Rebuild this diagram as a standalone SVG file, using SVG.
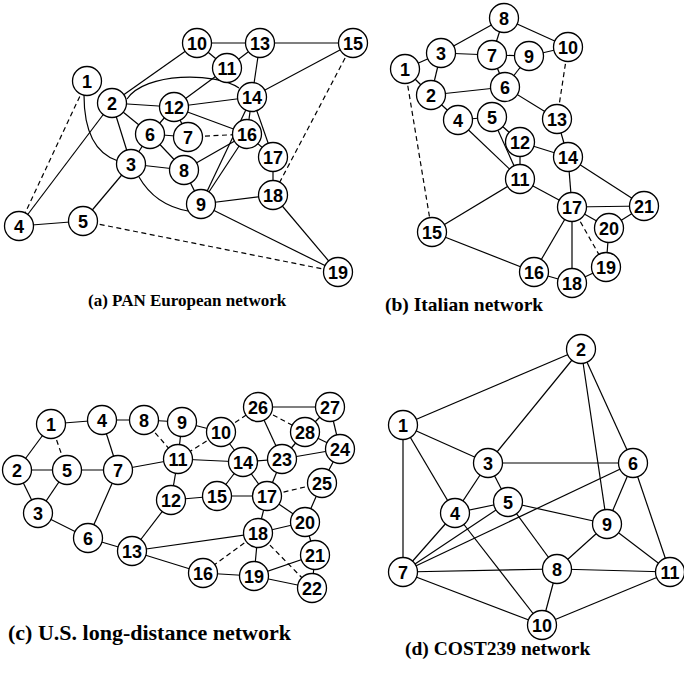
<svg xmlns="http://www.w3.org/2000/svg" width="684" height="682" viewBox="0 0 684 682">
<style>
.e{stroke:#000;stroke-width:1.2;fill:none}
.d{stroke:#000;stroke-width:1.2;fill:none;stroke-dasharray:5 3.5}
.n text{font-family:"Liberation Sans",Arial,sans-serif;font-weight:bold;font-size:18px;text-anchor:middle;fill:#000}
.cap{font-family:"Liberation Serif","Times New Roman",serif;font-weight:bold;fill:#000}
</style>
<rect width="684" height="682" fill="#fff"/>
<defs>
<circle id="c" r="14.5" fill="#fff" stroke="#000" stroke-width="1.3"/>
</defs>

<!-- Panel A connectors -->
<g id="edges-a">
<line class="d" x1="87" y1="81" x2="19" y2="226"/>
<line class="e" x1="112" y1="103" x2="19" y2="226"/>
<line class="e" x1="112" y1="103" x2="197" y2="43"/>
<line class="e" x1="112" y1="103" x2="174" y2="107"/>
<line class="e" x1="112" y1="103" x2="150" y2="134"/>
<line class="e" x1="112" y1="103" x2="131" y2="164"/>
<line class="e" x1="131" y1="164" x2="150" y2="134"/>
<line class="e" x1="131" y1="164" x2="184" y2="170"/>
<line class="e" x1="131" y1="164" x2="83" y2="221"/>
<line class="e" x1="19" y1="226" x2="83" y2="221"/>
<line class="d" x1="83" y1="221" x2="338" y2="272"/>
<line class="e" x1="150" y1="134" x2="188" y2="137"/>
<line class="e" x1="150" y1="134" x2="184" y2="170"/>
<line class="e" x1="150" y1="134" x2="174" y2="107"/>
<line class="e" x1="188" y1="137" x2="174" y2="107"/>
<line class="d" x1="188" y1="137" x2="247" y2="134"/>
<line class="e" x1="184" y1="170" x2="247" y2="134"/>
<line class="e" x1="184" y1="170" x2="201" y2="204"/>
<line class="e" x1="201" y1="204" x2="252" y2="97"/>
<line class="e" x1="201" y1="204" x2="247" y2="134"/>
<line class="e" x1="201" y1="204" x2="273" y2="195"/>
<line class="e" x1="201" y1="204" x2="338" y2="272"/>
<line class="e" x1="197" y1="43" x2="260" y2="43"/>
<line class="e" x1="197" y1="43" x2="227" y2="68"/>
<line class="e" x1="227" y1="68" x2="260" y2="43"/>
<line class="e" x1="227" y1="68" x2="174" y2="107"/>
<line class="e" x1="174" y1="107" x2="252" y2="97"/>
<line class="e" x1="174" y1="107" x2="247" y2="134"/>
<line class="e" x1="260" y1="43" x2="252" y2="97"/>
<line class="e" x1="260" y1="43" x2="353" y2="43"/>
<line class="e" x1="252" y1="97" x2="353" y2="43"/>
<line class="e" x1="252" y1="97" x2="247" y2="134"/>
<line class="e" x1="252" y1="97" x2="273" y2="157"/>
<line class="e" x1="247" y1="134" x2="273" y2="157"/>
<line class="e" x1="273" y1="157" x2="273" y2="195"/>
<line class="d" x1="353" y1="43" x2="273" y2="195"/>
<line class="e" x1="273" y1="195" x2="338" y2="272"/>
<path class="e" d="M84 95 Q84 150 118 161"/>
<path class="e" d="M127 99 C145 72 215 72 239 88"/>
<path class="e" d="M139 177 Q155 205 188 211"/>
</g>

<!-- Panel B connectors -->
<g id="edges-b">
<line class="e" x1="405" y1="69" x2="441" y2="53"/>
<line class="e" x1="405" y1="69" x2="431" y2="95"/>
<line class="d" x1="405" y1="69" x2="432" y2="232"/>
<line class="e" x1="431" y1="95" x2="441" y2="53"/>
<line class="e" x1="441" y1="53" x2="504" y2="18"/>
<line class="e" x1="441" y1="53" x2="492" y2="55"/>
<line class="e" x1="504" y1="18" x2="492" y2="55"/>
<line class="e" x1="504" y1="18" x2="568" y2="47"/>
<line class="e" x1="492" y1="55" x2="529" y2="56"/>
<line class="e" x1="492" y1="55" x2="505" y2="87"/>
<line class="e" x1="529" y1="56" x2="505" y2="87"/>
<line class="e" x1="529" y1="56" x2="568" y2="47"/>
<line class="e" x1="431" y1="95" x2="505" y2="87"/>
<line class="e" x1="431" y1="95" x2="458" y2="120"/>
<line class="e" x1="458" y1="120" x2="492" y2="117"/>
<line class="e" x1="458" y1="120" x2="520" y2="179"/>
<line class="e" x1="492" y1="117" x2="520" y2="179"/>
<line class="e" x1="492" y1="117" x2="520" y2="142"/>
<line class="e" x1="520" y1="142" x2="520" y2="179"/>
<line class="e" x1="520" y1="142" x2="568" y2="157"/>
<line class="e" x1="505" y1="87" x2="557" y2="119"/>
<line class="d" x1="568" y1="47" x2="557" y2="119"/>
<line class="e" x1="557" y1="119" x2="568" y2="157"/>
<line class="e" x1="568" y1="157" x2="572" y2="207"/>
<line class="e" x1="568" y1="157" x2="644" y2="206"/>
<line class="e" x1="520" y1="179" x2="572" y2="207"/>
<line class="e" x1="520" y1="179" x2="432" y2="232"/>
<line class="e" x1="432" y1="232" x2="534" y2="272"/>
<line class="e" x1="572" y1="207" x2="644" y2="206"/>
<line class="e" x1="572" y1="207" x2="609" y2="228"/>
<line class="d" x1="572" y1="207" x2="606" y2="267"/>
<line class="e" x1="572" y1="207" x2="534" y2="272"/>
<line class="e" x1="572" y1="207" x2="572" y2="283"/>
<line class="e" x1="609" y1="228" x2="644" y2="206"/>
<line class="e" x1="609" y1="228" x2="606" y2="267"/>
<line class="e" x1="534" y1="272" x2="572" y2="283"/>
<line class="e" x1="572" y1="283" x2="606" y2="267"/>
</g>

<!-- Panel C connectors -->
<g id="edges-c">
<line class="e" x1="51" y1="424" x2="102" y2="420"/>
<line class="e" x1="51" y1="424" x2="17" y2="470"/>
<line class="d" x1="51" y1="424" x2="67" y2="470"/>
<line class="e" x1="17" y1="470" x2="67" y2="470"/>
<line class="e" x1="17" y1="470" x2="38" y2="513"/>
<line class="e" x1="38" y1="513" x2="67" y2="470"/>
<line class="e" x1="38" y1="513" x2="88" y2="538"/>
<line class="e" x1="102" y1="420" x2="144" y2="420"/>
<line class="e" x1="102" y1="420" x2="118" y2="470"/>
<line class="e" x1="67" y1="470" x2="118" y2="470"/>
<line class="e" x1="118" y1="470" x2="178" y2="459"/>
<line class="e" x1="118" y1="470" x2="88" y2="538"/>
<line class="e" x1="144" y1="420" x2="182" y2="422"/>
<line class="d" x1="144" y1="420" x2="178" y2="459"/>
<line class="e" x1="182" y1="422" x2="221" y2="432"/>
<line class="e" x1="182" y1="422" x2="178" y2="459"/>
<line class="d" x1="221" y1="432" x2="178" y2="459"/>
<line class="e" x1="221" y1="432" x2="243" y2="462"/>
<line class="d" x1="221" y1="432" x2="258" y2="407"/>
<line class="e" x1="178" y1="459" x2="243" y2="462"/>
<line class="e" x1="178" y1="459" x2="171" y2="500"/>
<line class="e" x1="171" y1="500" x2="217" y2="496"/>
<line class="e" x1="171" y1="500" x2="132" y2="551"/>
<line class="e" x1="88" y1="538" x2="132" y2="551"/>
<line class="e" x1="132" y1="551" x2="258" y2="533"/>
<line class="e" x1="132" y1="551" x2="203" y2="573"/>
<line class="e" x1="243" y1="462" x2="282" y2="459"/>
<line class="e" x1="243" y1="462" x2="217" y2="496"/>
<line class="e" x1="243" y1="462" x2="267" y2="496"/>
<line class="e" x1="217" y1="496" x2="267" y2="496"/>
<line class="e" x1="258" y1="407" x2="330" y2="407"/>
<line class="d" x1="258" y1="407" x2="305" y2="432"/>
<line class="e" x1="258" y1="407" x2="282" y2="459"/>
<line class="e" x1="330" y1="407" x2="305" y2="432"/>
<line class="e" x1="330" y1="407" x2="340" y2="449"/>
<line class="e" x1="305" y1="432" x2="340" y2="449"/>
<line class="e" x1="305" y1="432" x2="282" y2="459"/>
<line class="e" x1="282" y1="459" x2="340" y2="449"/>
<line class="e" x1="282" y1="459" x2="267" y2="496"/>
<line class="d" x1="267" y1="496" x2="322" y2="483"/>
<line class="e" x1="267" y1="496" x2="305" y2="522"/>
<line class="e" x1="267" y1="496" x2="258" y2="533"/>
<line class="e" x1="322" y1="483" x2="340" y2="449"/>
<line class="e" x1="322" y1="483" x2="305" y2="522"/>
<line class="e" x1="305" y1="522" x2="258" y2="533"/>
<line class="e" x1="305" y1="522" x2="315" y2="555"/>
<line class="d" x1="258" y1="533" x2="203" y2="573"/>
<line class="e" x1="258" y1="533" x2="254" y2="576"/>
<line class="d" x1="258" y1="533" x2="312" y2="588"/>
<line class="e" x1="203" y1="573" x2="254" y2="576"/>
<line class="e" x1="254" y1="576" x2="315" y2="555"/>
<line class="e" x1="254" y1="576" x2="312" y2="588"/>
<line class="e" x1="315" y1="555" x2="312" y2="588"/>
</g>

<!-- Panel D connectors -->
<g id="edges-d">
<line class="e" x1="403" y1="425" x2="581" y2="349"/>
<line class="e" x1="403" y1="425" x2="488" y2="463"/>
<line class="e" x1="403" y1="425" x2="455" y2="513"/>
<line class="e" x1="403" y1="425" x2="403" y2="572"/>
<line class="e" x1="581" y1="349" x2="488" y2="463"/>
<line class="e" x1="581" y1="349" x2="607" y2="524"/>
<line class="e" x1="581" y1="349" x2="633" y2="463"/>
<line class="e" x1="488" y1="463" x2="633" y2="463"/>
<line class="e" x1="488" y1="463" x2="455" y2="513"/>
<line class="e" x1="488" y1="463" x2="508" y2="502"/>
<line class="e" x1="455" y1="513" x2="508" y2="502"/>
<line class="e" x1="455" y1="513" x2="403" y2="572"/>
<line class="e" x1="455" y1="513" x2="542" y2="625"/>
<line class="e" x1="508" y1="502" x2="607" y2="524"/>
<line class="e" x1="508" y1="502" x2="557" y2="569"/>
<line class="e" x1="508" y1="502" x2="403" y2="572"/>
<line class="e" x1="633" y1="463" x2="403" y2="572"/>
<line class="e" x1="633" y1="463" x2="607" y2="524"/>
<line class="e" x1="633" y1="463" x2="670" y2="572"/>
<line class="e" x1="403" y1="572" x2="557" y2="569"/>
<line class="e" x1="403" y1="572" x2="542" y2="625"/>
<line class="e" x1="557" y1="569" x2="607" y2="524"/>
<line class="e" x1="557" y1="569" x2="670" y2="572"/>
<line class="e" x1="557" y1="569" x2="542" y2="625"/>
<line class="e" x1="607" y1="524" x2="670" y2="572"/>
<line class="e" x1="542" y1="625" x2="670" y2="572"/>
</g>

<!-- Panel A nodes -->
<g id="a1" class="n"><use href="#c" x="87" y="81"/><text x="87" y="87.5">1</text></g>
<g id="a2" class="n"><use href="#c" x="112" y="103"/><text x="112" y="109.5">2</text></g>
<g id="a3" class="n"><use href="#c" x="131" y="164"/><text x="131" y="170.5">3</text></g>
<g id="a4" class="n"><use href="#c" x="19" y="226"/><text x="19" y="232.5">4</text></g>
<g id="a5" class="n"><use href="#c" x="83" y="221"/><text x="83" y="227.5">5</text></g>
<g id="a6" class="n"><use href="#c" x="150" y="134"/><text x="150" y="140.5">6</text></g>
<g id="a7" class="n"><use href="#c" x="188" y="137"/><text x="188" y="143.5">7</text></g>
<g id="a8" class="n"><use href="#c" x="184" y="170"/><text x="184" y="176.5">8</text></g>
<g id="a9" class="n"><use href="#c" x="201" y="204"/><text x="201" y="210.5">9</text></g>
<g id="a10" class="n"><use href="#c" x="197" y="43"/><text x="197" y="49.5">10</text></g>
<g id="a11" class="n"><use href="#c" x="227" y="68"/><text x="227" y="74.5">11</text></g>
<g id="a12" class="n"><use href="#c" x="174" y="107"/><text x="174" y="113.5">12</text></g>
<g id="a13" class="n"><use href="#c" x="260" y="43"/><text x="260" y="49.5">13</text></g>
<g id="a14" class="n"><use href="#c" x="252" y="97"/><text x="252" y="103.5">14</text></g>
<g id="a15" class="n"><use href="#c" x="353" y="43"/><text x="353" y="49.5">15</text></g>
<g id="a16" class="n"><use href="#c" x="247" y="134"/><text x="247" y="140.5">16</text></g>
<g id="a17" class="n"><use href="#c" x="273" y="157"/><text x="273" y="163.5">17</text></g>
<g id="a18" class="n"><use href="#c" x="273" y="195"/><text x="273" y="201.5">18</text></g>
<g id="a19" class="n"><use href="#c" x="338" y="272"/><text x="338" y="278.5">19</text></g>

<!-- Panel B nodes -->
<g id="b1" class="n"><use href="#c" x="405" y="69"/><text x="405" y="75.5">1</text></g>
<g id="b2" class="n"><use href="#c" x="431" y="95"/><text x="431" y="101.5">2</text></g>
<g id="b3" class="n"><use href="#c" x="441" y="53"/><text x="441" y="59.5">3</text></g>
<g id="b4" class="n"><use href="#c" x="458" y="120"/><text x="458" y="126.5">4</text></g>
<g id="b5" class="n"><use href="#c" x="492" y="117"/><text x="492" y="123.5">5</text></g>
<g id="b6" class="n"><use href="#c" x="505" y="87"/><text x="505" y="93.5">6</text></g>
<g id="b7" class="n"><use href="#c" x="492" y="55"/><text x="492" y="61.5">7</text></g>
<g id="b8" class="n"><use href="#c" x="504" y="18"/><text x="504" y="24.5">8</text></g>
<g id="b9" class="n"><use href="#c" x="529" y="56"/><text x="529" y="62.5">9</text></g>
<g id="b10" class="n"><use href="#c" x="568" y="47"/><text x="568" y="53.5">10</text></g>
<g id="b11" class="n"><use href="#c" x="520" y="179"/><text x="520" y="185.5">11</text></g>
<g id="b12" class="n"><use href="#c" x="520" y="142"/><text x="520" y="148.5">12</text></g>
<g id="b13" class="n"><use href="#c" x="557" y="119"/><text x="557" y="125.5">13</text></g>
<g id="b14" class="n"><use href="#c" x="568" y="157"/><text x="568" y="163.5">14</text></g>
<g id="b15" class="n"><use href="#c" x="432" y="232"/><text x="432" y="238.5">15</text></g>
<g id="b16" class="n"><use href="#c" x="534" y="272"/><text x="534" y="278.5">16</text></g>
<g id="b17" class="n"><use href="#c" x="572" y="207"/><text x="572" y="213.5">17</text></g>
<g id="b18" class="n"><use href="#c" x="572" y="283"/><text x="572" y="289.5">18</text></g>
<g id="b19" class="n"><use href="#c" x="606" y="267"/><text x="606" y="273.5">19</text></g>
<g id="b20" class="n"><use href="#c" x="609" y="228"/><text x="609" y="234.5">20</text></g>
<g id="b21" class="n"><use href="#c" x="644" y="206"/><text x="644" y="212.5">21</text></g>

<!-- Panel C nodes -->
<g id="c1" class="n"><use href="#c" x="51" y="424"/><text x="51" y="430.5">1</text></g>
<g id="c2" class="n"><use href="#c" x="17" y="470"/><text x="17" y="476.5">2</text></g>
<g id="c3" class="n"><use href="#c" x="38" y="513"/><text x="38" y="519.5">3</text></g>
<g id="c4" class="n"><use href="#c" x="102" y="420"/><text x="102" y="426.5">4</text></g>
<g id="c5" class="n"><use href="#c" x="67" y="470"/><text x="67" y="476.5">5</text></g>
<g id="c6" class="n"><use href="#c" x="88" y="538"/><text x="88" y="544.5">6</text></g>
<g id="c7" class="n"><use href="#c" x="118" y="470"/><text x="118" y="476.5">7</text></g>
<g id="c8" class="n"><use href="#c" x="144" y="420"/><text x="144" y="426.5">8</text></g>
<g id="c9" class="n"><use href="#c" x="182" y="422"/><text x="182" y="428.5">9</text></g>
<g id="c10" class="n"><use href="#c" x="221" y="432"/><text x="221" y="438.5">10</text></g>
<g id="c11" class="n"><use href="#c" x="178" y="459"/><text x="178" y="465.5">11</text></g>
<g id="c12" class="n"><use href="#c" x="171" y="500"/><text x="171" y="506.5">12</text></g>
<g id="c13" class="n"><use href="#c" x="132" y="551"/><text x="132" y="557.5">13</text></g>
<g id="c14" class="n"><use href="#c" x="243" y="462"/><text x="243" y="468.5">14</text></g>
<g id="c15" class="n"><use href="#c" x="217" y="496"/><text x="217" y="502.5">15</text></g>
<g id="c16" class="n"><use href="#c" x="203" y="573"/><text x="203" y="579.5">16</text></g>
<g id="c17" class="n"><use href="#c" x="267" y="496"/><text x="267" y="502.5">17</text></g>
<g id="c18" class="n"><use href="#c" x="258" y="533"/><text x="258" y="539.5">18</text></g>
<g id="c19" class="n"><use href="#c" x="254" y="576"/><text x="254" y="582.5">19</text></g>
<g id="c20" class="n"><use href="#c" x="305" y="522"/><text x="305" y="528.5">20</text></g>
<g id="c21" class="n"><use href="#c" x="315" y="555"/><text x="315" y="561.5">21</text></g>
<g id="c22" class="n"><use href="#c" x="312" y="588"/><text x="312" y="594.5">22</text></g>
<g id="c23" class="n"><use href="#c" x="282" y="459"/><text x="282" y="465.5">23</text></g>
<g id="c24" class="n"><use href="#c" x="340" y="449"/><text x="340" y="455.5">24</text></g>
<g id="c25" class="n"><use href="#c" x="322" y="483"/><text x="322" y="489.5">25</text></g>
<g id="c26" class="n"><use href="#c" x="258" y="407"/><text x="258" y="413.5">26</text></g>
<g id="c27" class="n"><use href="#c" x="330" y="407"/><text x="330" y="413.5">27</text></g>
<g id="c28" class="n"><use href="#c" x="305" y="432"/><text x="305" y="438.5">28</text></g>

<!-- Panel D nodes -->
<g id="d1" class="n"><use href="#c" x="403" y="425"/><text x="403" y="431.5">1</text></g>
<g id="d2" class="n"><use href="#c" x="581" y="349"/><text x="581" y="355.5">2</text></g>
<g id="d3" class="n"><use href="#c" x="488" y="463"/><text x="488" y="469.5">3</text></g>
<g id="d4" class="n"><use href="#c" x="455" y="513"/><text x="455" y="519.5">4</text></g>
<g id="d5" class="n"><use href="#c" x="508" y="502"/><text x="508" y="508.5">5</text></g>
<g id="d6" class="n"><use href="#c" x="633" y="463"/><text x="633" y="469.5">6</text></g>
<g id="d7" class="n"><use href="#c" x="403" y="572"/><text x="403" y="578.5">7</text></g>
<g id="d8" class="n"><use href="#c" x="557" y="569"/><text x="557" y="575.5">8</text></g>
<g id="d9" class="n"><use href="#c" x="607" y="524"/><text x="607" y="530.5">9</text></g>
<g id="d10" class="n"><use href="#c" x="542" y="625"/><text x="542" y="631.5">10</text></g>
<g id="d11" class="n"><use href="#c" x="670" y="572"/><text x="670" y="578.5">11</text></g>

<!-- Captions -->
<text class="cap" x="88" y="306" font-size="17">(a) PAN European network</text>
<text class="cap" x="385" y="311" font-size="19.5">(b) Italian network</text>
<text class="cap" x="8" y="640" font-size="22">(c)  U.S. long-distance network</text>
<text class="cap" x="405" y="655" font-size="19.5">(d) COST239 network</text>
</svg>
